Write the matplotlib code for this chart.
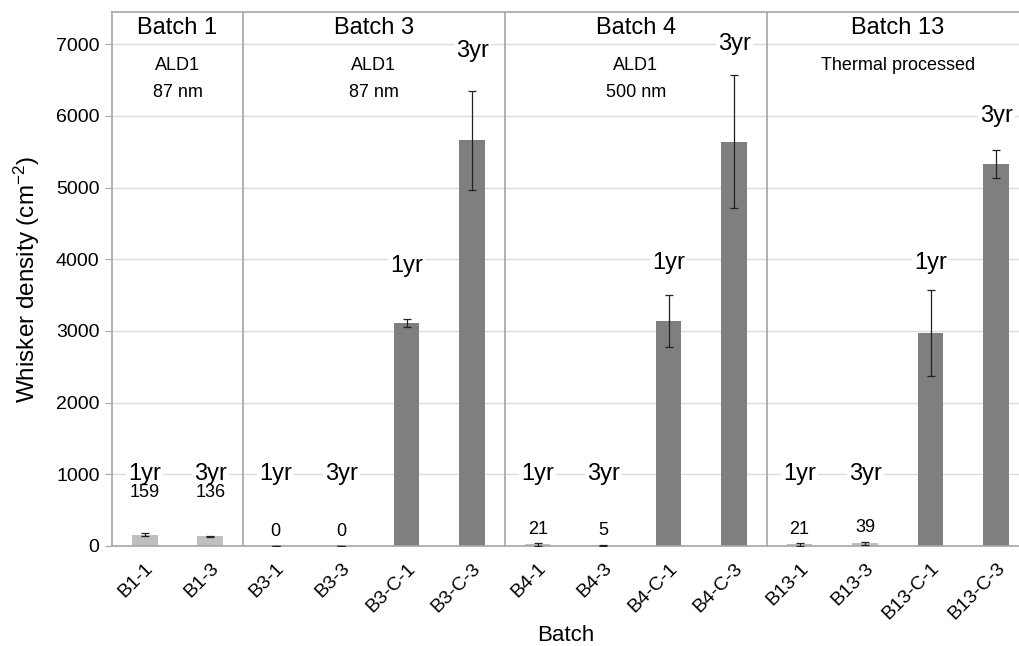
import matplotlib
matplotlib.use("Agg")
from matplotlib import pyplot as plt
import numpy as np

plt.rcParams['font.family'] = ['Liberation Sans', 'DejaVu Sans']
plt.rcParams['mathtext.fontset'] = 'custom'
plt.rcParams['mathtext.rm'] = 'Liberation Sans'
plt.rcParams['mathtext.it'] = 'Liberation Sans:italic'

samples = ['B1-1', 'B1-3', 'B3-1', 'B3-3', 'B3-C-1', 'B3-C-3',
           'B4-1', 'B4-3', 'B4-C-1', 'B4-C-3',
           'B13-1', 'B13-3', 'B13-C-1', 'B13-C-3']
density = [159, 136, 0, 0, 3110, 5660, 21, 5, 3140, 5640, 21, 39, 2970, 5330]
err = [25, 10, 0, 0, 50, 690, 20, 5, 360, 930, 15, 20, 600, 190]
is_coated = [False, False, False, False, True, True, False, False, True, True,
             False, False, True, True]
age_labels = ['1yr', '3yr', '1yr', '3yr', '1yr', '3yr', '1yr', '3yr', '1yr', '3yr',
              '1yr', '3yr', '1yr', '3yr']
age_label_y = [1000, 1000, 1000, 1000, 3900, 6900, 1000, 1000, 3950, 7000,
               1000, 1000, 3950, 6000]
value_labels = ['159', '136', '0', '0', '', '', '21', '5', '', '', '21', '39', '', '']
value_label_y = [750, 740, 200, 200, 0, 0, 230, 220, 0, 0, 230, 260, 0, 0]

batches = ['Batch 1', 'Batch 3', 'Batch 4', 'Batch 13']
batch_sub1 = ['ALD1', 'ALD1', 'ALD1', 'Thermal processed']
batch_sub2 = ['87 nm', '87 nm', '500 nm', '']
batch_centers = [0.5, 3.5, 7.5, 11.5]
batch_dividers = [1.5, 5.5, 9.5]

fig = plt.figure(figsize=(10.19, 6.46), dpi=100)
ax = fig.add_axes([112 / 1019, 1 - 546 / 646, 1 - 112 / 1019, (546 - 12) / 646])

x = np.arange(len(samples))
colors = ['#7f7f7f' if c else '#bfbfbf' for c in is_coated]
ax.bar(x, density, width=0.39, color=colors, zorder=2)
ax.errorbar(x, density, yerr=err, fmt='none', ecolor='#222222', elinewidth=0.9,
            capsize=3, capthick=0.9, zorder=3)

box = dict(facecolor='white', edgecolor='none', pad=1.5)
for i in range(len(samples)):
    ax.text(x[i], age_label_y[i], age_labels[i], ha='center', va='center',
            fontsize=17, bbox=box, zorder=4)
    if value_labels[i]:
        ax.text(x[i], value_label_y[i], value_labels[i], ha='center', va='center',
                fontsize=13, zorder=4)

for i in range(len(batches)):
    ax.text(batch_centers[i], 7230, batches[i], ha='center', va='center',
            fontsize=17, bbox=dict(facecolor='white', edgecolor='none', pad=3), zorder=4)
    ax.text(batch_centers[i], 6710, batch_sub1[i], ha='center', va='center',
            fontsize=13, zorder=4)
    if batch_sub2[i]:
        ax.text(batch_centers[i], 6320, batch_sub2[i], ha='center', va='center',
                fontsize=13, zorder=4)

for d in batch_dividers:
    ax.axvline(d, color='#a6a6a6', linewidth=1.2, zorder=1)

ax.set_xlim(-0.5, 13.35)
ax.set_ylim(0, 7450)
ax.set_yticks(np.arange(0, 7001, 1000))
ax.yaxis.grid(True, color='#dcdcdc', linewidth=1.0, zorder=0)
ax.set_axisbelow(True)

ax.set_xticks(x)
ax.set_xticklabels(samples, rotation=45, ha='right', rotation_mode='anchor', fontsize=14)
ax.tick_params(axis='x', length=0, pad=10)
ax.tick_params(axis='y', length=5, color='#a6a6a6', labelsize=14, pad=4)

for side in ['left', 'bottom', 'top']:
    ax.spines[side].set_color('#a6a6a6')
    ax.spines[side].set_linewidth(1.2)
ax.spines['right'].set_visible(False)

ax.set_ylabel('Whisker density (cm$^{-2}$)', fontsize=17.5, labelpad=10)
ax.set_xlabel('Batch', fontsize=16, labelpad=1)

fig.savefig('out.png', dpi=100)
